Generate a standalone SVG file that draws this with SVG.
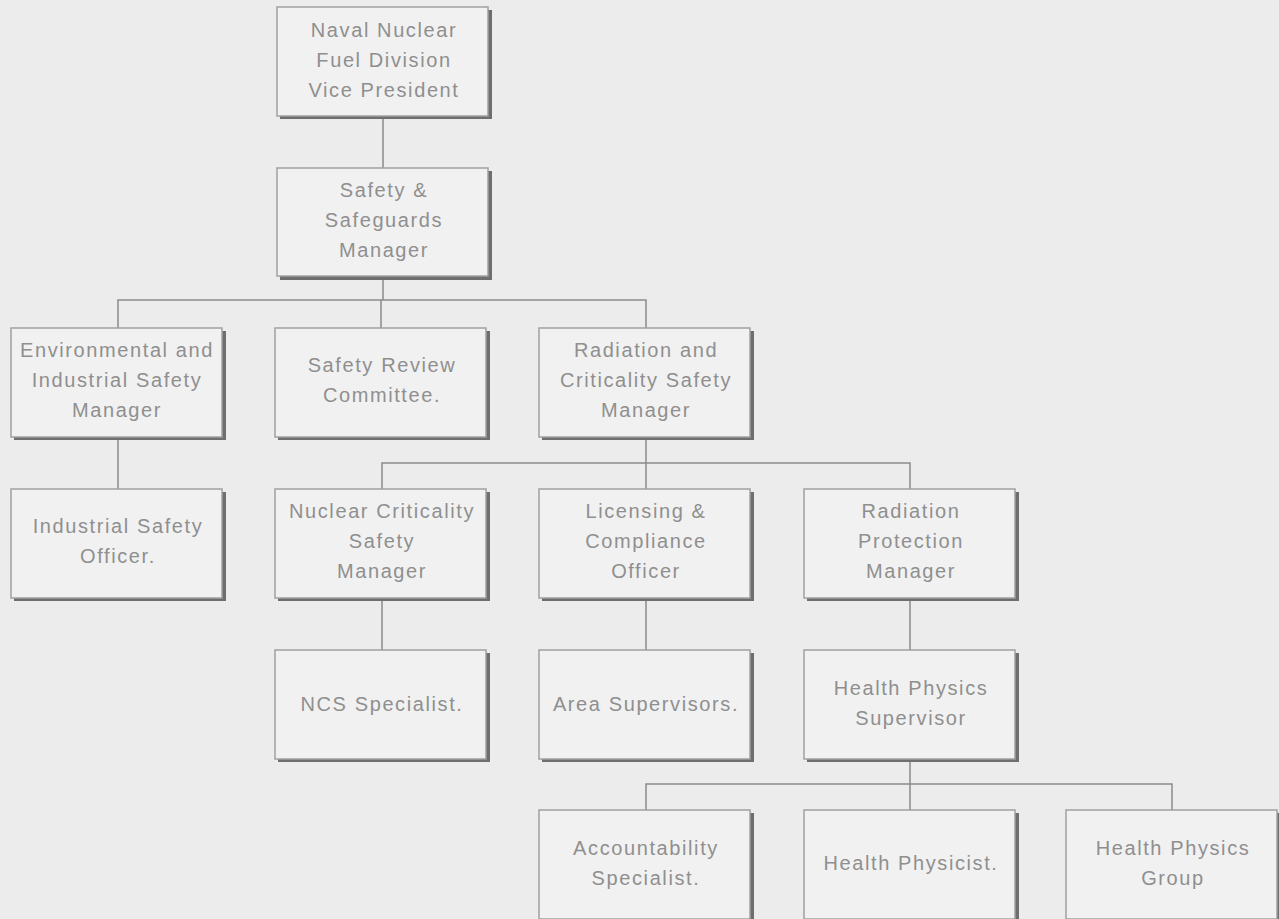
<svg xmlns="http://www.w3.org/2000/svg" width="1279" height="919" viewBox="0 0 1279 919">
<style>
.bg{fill:#ececec}
.sh{fill:#6e6e6e}
.bx{fill:#f1f1f1;stroke:#a0a0a0;stroke-width:1.5}
.t{font-family:"Liberation Sans",Arial,sans-serif;font-size:20px;letter-spacing:1.6px;fill:#8f8f8f;text-anchor:middle}
.c{fill:none;stroke:#8a8a8a;stroke-width:1.5}
</style>
<rect class="bg" x="0" y="0" width="1279" height="919"/>
<g id="connectors">
<path class="c" d="M383 118V168"/>
<path class="c" d="M383 278V300M118 328V300H646V328M381 300V328"/>
<path class="c" d="M118 439V489"/>
<path class="c" d="M646 439V463M382 489V463H910V489M646 463V489"/>
<path class="c" d="M382 600V650M646 600V650M910 600V650"/>
<path class="c" d="M910 761V784M646 810V784H1172V810M910 784V810"/>
</g>
<g id="vp"><rect class="sh" x="280" y="10" width="212" height="109"/><rect class="bx" x="277" y="7" width="211" height="109"/><text class="t" x="384" y="37">Naval Nuclear</text><text class="t" x="384" y="67">Fuel Division</text><text class="t" x="384" y="97">Vice President</text></g>
<g id="ssm"><rect class="sh" x="280" y="171" width="212" height="109"/><rect class="bx" x="277" y="168" width="211" height="108"/><text class="t" x="384" y="197">Safety &amp;</text><text class="t" x="384" y="227">Safeguards</text><text class="t" x="384" y="257">Manager</text></g>
<g id="eism"><rect class="sh" x="14" y="331" width="212" height="109"/><rect class="bx" x="11" y="328" width="211" height="109"/><text class="t" x="117" y="357">Environmental and</text><text class="t" x="117" y="387">Industrial Safety</text><text class="t" x="117" y="417">Manager</text></g>
<g id="src"><rect class="sh" x="278" y="331" width="212" height="109"/><rect class="bx" x="275" y="328" width="211" height="109"/><text class="t" x="382" y="372">Safety Review</text><text class="t" x="382" y="402">Committee.</text></g>
<g id="rcsm"><rect class="sh" x="542" y="331" width="212" height="109"/><rect class="bx" x="539" y="328" width="211" height="109"/><text class="t" x="646" y="357">Radiation and</text><text class="t" x="646" y="387">Criticality Safety</text><text class="t" x="646" y="417">Manager</text></g>
<g id="iso"><rect class="sh" x="14" y="492" width="212" height="109"/><rect class="bx" x="11" y="489" width="211" height="109"/><text class="t" x="118" y="533">Industrial Safety</text><text class="t" x="118" y="563">Officer.</text></g>
<g id="ncsm"><rect class="sh" x="278" y="492" width="212" height="109"/><rect class="bx" x="275" y="489" width="211" height="109"/><text class="t" x="382" y="518">Nuclear Criticality</text><text class="t" x="382" y="548">Safety</text><text class="t" x="382" y="578">Manager</text></g>
<g id="lco"><rect class="sh" x="542" y="492" width="212" height="109"/><rect class="bx" x="539" y="489" width="211" height="109"/><text class="t" x="646" y="518">Licensing &amp;</text><text class="t" x="646" y="548">Compliance</text><text class="t" x="646" y="578">Officer</text></g>
<g id="rpm"><rect class="sh" x="807" y="492" width="212" height="109"/><rect class="bx" x="804" y="489" width="211" height="109"/><text class="t" x="911" y="518">Radiation</text><text class="t" x="911" y="548">Protection</text><text class="t" x="911" y="578">Manager</text></g>
<g id="ncss"><rect class="sh" x="278" y="653" width="212" height="109"/><rect class="bx" x="275" y="650" width="211" height="109"/><text class="t" x="382" y="711">NCS Specialist.</text></g>
<g id="as"><rect class="sh" x="542" y="653" width="212" height="109"/><rect class="bx" x="539" y="650" width="211" height="109"/><text class="t" x="646" y="711">Area Supervisors.</text></g>
<g id="hps"><rect class="sh" x="807" y="653" width="212" height="109"/><rect class="bx" x="804" y="650" width="211" height="109"/><text class="t" x="911" y="695">Health Physics</text><text class="t" x="911" y="725">Supervisor</text></g>
<g id="acs"><rect class="sh" x="542" y="813" width="212" height="109"/><rect class="bx" x="539" y="810" width="211" height="109"/><text class="t" x="646" y="855">Accountability</text><text class="t" x="646" y="885">Specialist.</text></g>
<g id="hp"><rect class="sh" x="807" y="813" width="212" height="109"/><rect class="bx" x="804" y="810" width="211" height="109"/><text class="t" x="911" y="870">Health Physicist.</text></g>
<g id="hpg"><rect class="sh" x="1069" y="813" width="212" height="109"/><rect class="bx" x="1066" y="810" width="211" height="109"/><text class="t" x="1173" y="855">Health Physics</text><text class="t" x="1173" y="885">Group</text></g>
</svg>
